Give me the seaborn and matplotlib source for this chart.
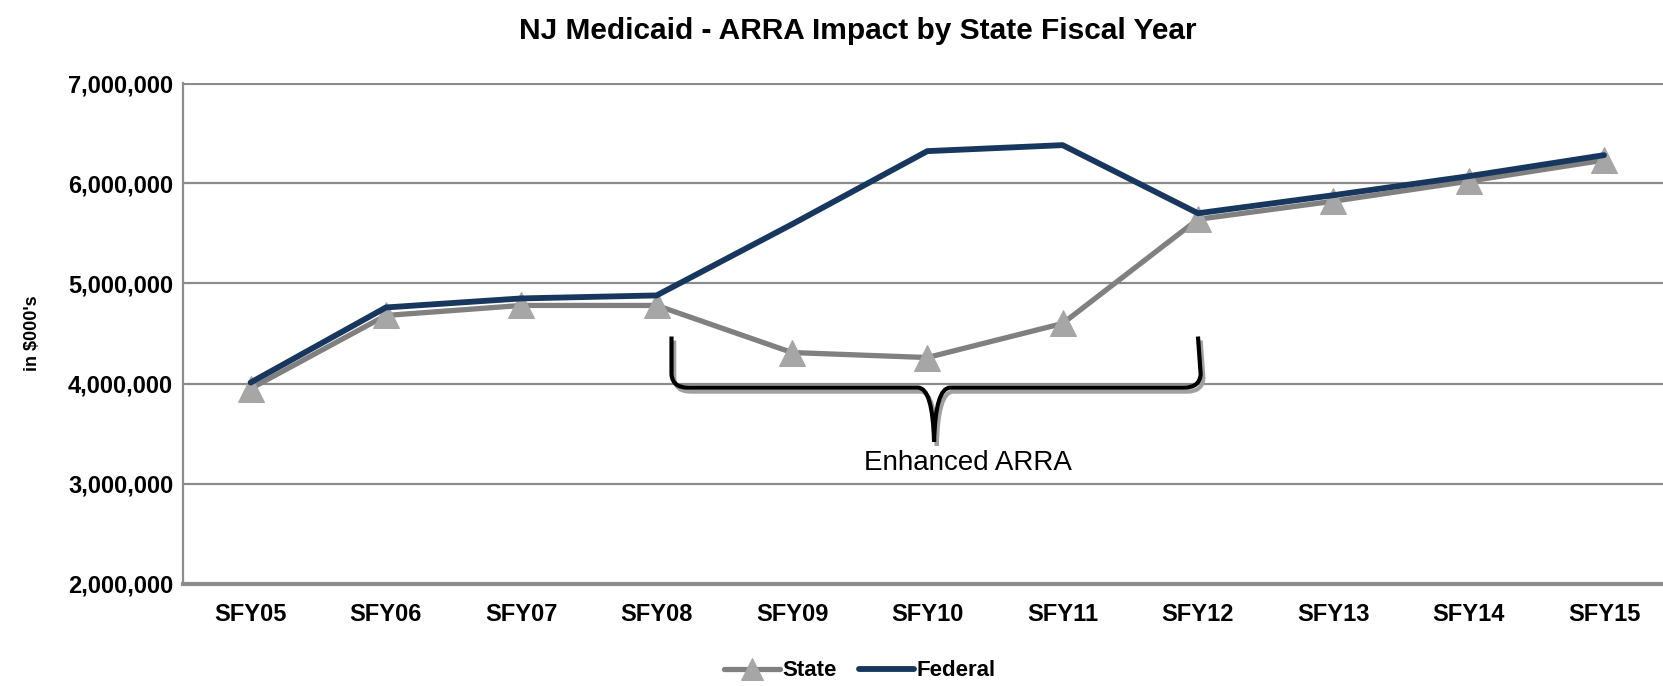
import numpy as np
import pandas as pd
import matplotlib
matplotlib.use("Agg")
import matplotlib.pyplot as plt
import seaborn as sns
from matplotlib.path import Path
from matplotlib.patches import PathPatch

years = ["SFY05", "SFY06", "SFY07", "SFY08", "SFY09", "SFY10", "SFY11", "SFY12", "SFY13", "SFY14", "SFY15"]
state = [3950000, 4680000, 4780000, 4780000, 4310000, 4260000, 4600000, 5640000, 5820000, 6020000, 6230000]
federal = [4010000, 4760000, 4850000, 4880000, 5590000, 6320000, 6380000, 5700000, 5880000, 6070000, 6280000]
yticks = [2000000, 3000000, 4000000, 5000000, 6000000, 7000000]

sns.set_theme(style="white")
plt.rcParams["font.family"] = ["Liberation Sans", "DejaVu Sans"]
plt.rcParams["text.color"] = "black"
plt.rcParams["axes.labelcolor"] = "black"
plt.rcParams["xtick.color"] = "black"
plt.rcParams["ytick.color"] = "black"

df = pd.DataFrame({"x": list(range(len(years))) * 2,
                   "value": state + federal,
                   "series": ["State"] * len(years) + ["Federal"] * len(years)})

fig = plt.figure(figsize=(16.63, 6.86), dpi=100)
ax = fig.add_axes([0.110, 0.1487, 0.890, 0.7303])

grid_c = "#8c8c8c"
for v in yticks[1:]:
    ax.axhline(v, color=grid_c, lw=1.6 if v != yticks[-1] else 3.0, zorder=1)

sns.lineplot(data=df[df.series == "State"], x="x", y="value", ax=ax,
             color="#808080", lw=3.8, marker="^", markersize=19,
             markerfacecolor="#a6a6a6", markeredgecolor="#a6a6a6",
             label="State", zorder=3, legend=False)
sns.lineplot(data=df[df.series == "Federal"], x="x", y="value", ax=ax,
             color="#17375e", lw=4.2, label="Federal", zorder=4, legend=False)

ax.set_xlim(-0.5, 10.436)
ax.set_ylim(yticks[0], yticks[-1])
ax.set_yticks(yticks)
ax.set_yticklabels([f"{v:,}" for v in yticks], fontsize=17, fontweight="bold")
ax.set_xticks(range(len(years)))
ax.set_xticklabels(years, fontsize=17, fontweight="bold")
ax.tick_params(axis="y", length=0, pad=7)
ax.tick_params(axis="x", length=0, pad=14)
ax.set_xlabel("")
ax.set_ylabel("in $000's", fontsize=13, fontweight="bold")
ax.yaxis.set_label_coords(-0.096, 0.5)

for s in ["top", "right"]:
    ax.spines[s].set_visible(False)
ax.spines["left"].set_color(grid_c)
ax.spines["left"].set_linewidth(1.6)
ax.spines["bottom"].set_color(grid_c)
ax.spines["bottom"].set_linewidth(3.0)

fig.text(0.516, 0.955, "NJ Medicaid - ARRA Impact by State Fiscal Year",
         ha="center", va="center", fontsize=21.5, fontweight="bold")

# curly brace annotation
x0, x1, xc = 3.11, 7.02, 5.05
ytop, ybar, ytip = 4470000, 3960000, 3420000
rx, ry = 0.12, 130000
verts = [(x0, ytop), (x0, ybar + ry), (x0 + 0.01, ybar), (x0 + rx, ybar),
         (xc - rx, ybar), (xc - 0.01, ybar), (xc, ytip),
         (xc + 0.01, ybar), (xc + rx, ybar),
         (x1 - rx, ybar), (x1 - 0.01, ybar), (x1, ybar + ry), (x1 - 0.02, ytop)]
codes = [Path.MOVETO, Path.LINETO, Path.CURVE3, Path.CURVE3,
         Path.LINETO, Path.CURVE3, Path.CURVE3,
         Path.CURVE3, Path.CURVE3,
         Path.LINETO, Path.CURVE3, Path.CURVE3, Path.LINETO]
shadow = [(vx + 0.02, vy - 40000) for vx, vy in verts]
ax.add_patch(PathPatch(Path(shadow, codes), fill=False, ec="#a0a0a0", lw=3, zorder=5))
ax.add_patch(PathPatch(Path(verts, codes), fill=False, ec="black", lw=3, zorder=6))
ax.text(5.30, 3205000, "Enhanced ARRA", ha="center", va="center", fontsize=20, zorder=6)

handles, labels = ax.get_legend_handles_labels()
fig.legend(handles, labels, loc="center", bbox_to_anchor=(0.517, 0.022), ncol=2,
           frameon=False, prop={"size": 16, "weight": "bold"}, handlelength=2.5,
           handletextpad=0.1, columnspacing=1.0, markerscale=0.8)

fig.savefig("out.png", dpi=100)
